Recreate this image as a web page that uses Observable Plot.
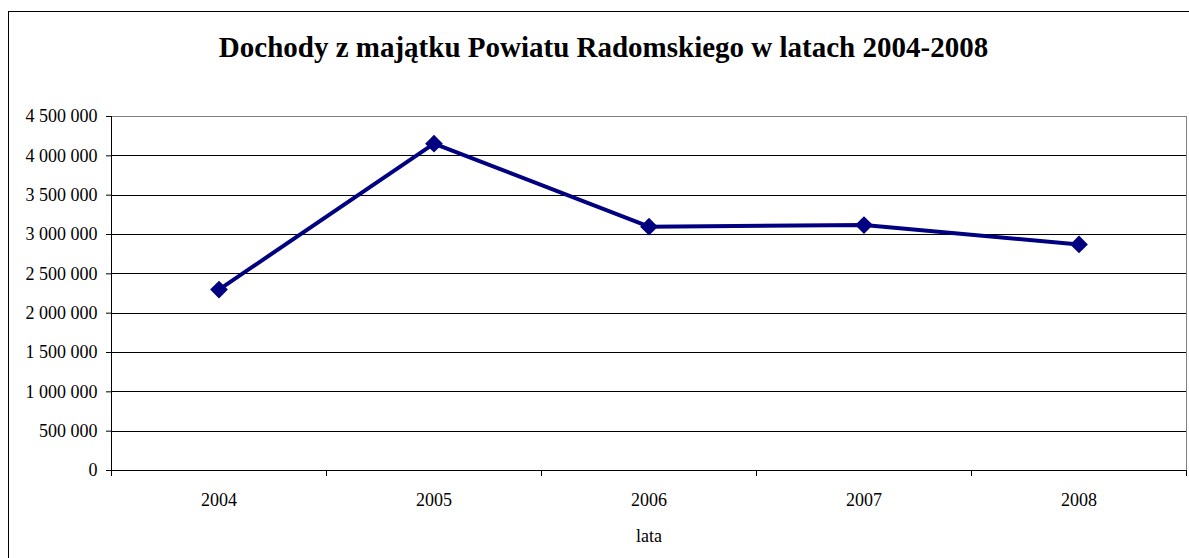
<!DOCTYPE html>
<html>
<head>
<meta charset="utf-8">
<script src="https://cdn.jsdelivr.net/npm/d3@7"></script>
<script src="https://cdn.jsdelivr.net/npm/@observablehq/plot@0.6"></script>
<style>
  html, body { margin: 0; padding: 0; background: #fff; overflow: hidden; }
  #page { position: relative; width: 1189px; height: 558px; overflow: hidden; background: #fff; }
  #border { position: absolute; left: 8px; top: 11px; width: 1300px; height: 700px; border: 1px solid #000; box-sizing: border-box; }
  #title { position: absolute; left: 0; top: 30px; width: 1207px; text-align: center;
           font-family: "Liberation Serif", "Times New Roman", serif; font-weight: bold; font-size: 29px; line-height: 34px; color: #000; }
  #chart { position: absolute; left: 0; top: 80px; }
</style>
</head>
<body>
<div id="page">
  <div id="border"></div>
  <div id="title">Dochody z majątku Powiatu Radomskiego w latach 2004-2008</div>
  <div id="chart"></div>
</div>
<script>
const years = [2004, 2005, 2006, 2007, 2008];
const values = [2300000, 4155000, 3100000, 3120000, 2873000];
const yTicks = [0, 500000, 1000000, 1500000, 2000000, 2500000, 3000000, 3500000, 4000000, 4500000];
const xLabel = "lata";

const data = years.map((yr, i) => ({year: yr, value: values[i]}));
const xDomain = [years[0] - 0.5, years[years.length - 1] + 0.5];
const yDomain = [yTicks[0], yTicks[yTicks.length - 1]];
const xEdges = years.map(d => d - 0.5).concat([years[years.length - 1] + 0.5]);
const fmt = d3.formatLocale({decimal: ",", thousands: " ", grouping: [3], currency: ["", ""]}).format(",");

const chart = Plot.plot({
  width: 1189,
  height: 478,
  marginLeft: 111,
  marginRight: 3,
  marginTop: 36,
  marginBottom: 88,
  style: {fontFamily: "'Liberation Serif', 'Times New Roman', serif", fontSize: "18px", color: "#000", background: "transparent", overflow: "visible"},
  x: {domain: xDomain},
  y: {domain: yDomain},
  marks: [
    Plot.ruleY(yTicks.slice(1, -1), {stroke: "#000", strokeWidth: 1, shapeRendering: "crispEdges"}),
    Plot.ruleY([yDomain[1]], {stroke: "#808080", strokeWidth: 1, shapeRendering: "crispEdges"}),
    Plot.ruleX([xDomain[1]], {stroke: "#808080", strokeWidth: 1, shapeRendering: "crispEdges", dx: -0.5}),
    Plot.ruleX([xDomain[0]], {stroke: "#000", strokeWidth: 1, shapeRendering: "crispEdges"}),
    Plot.ruleY([yDomain[0]], {stroke: "#000", strokeWidth: 1, shapeRendering: "crispEdges"}),
    Plot.axisY({ticks: yTicks, tickSize: 5, tickPadding: 9, tickFormat: fmt, label: null, stroke: "#000", fill: "#000", fontSize: 18}),
    Plot.axisX({ticks: xEdges, tickSize: 6, tickFormat: () => "", label: null, stroke: "#000"}),
    Plot.axisX({ticks: years, tickSize: 0, tickPadding: 23, tickFormat: d => String(d), label: null, fill: "#000", fontSize: 18}),
    Plot.text([xLabel], {frameAnchor: "bottom", lineAnchor: "bottom", dy: 71, fontSize: 18, fill: "#000"}),
    Plot.line(data, {x: "year", y: "value", stroke: "#000080", strokeWidth: 4}),
    Plot.dot(data, {x: "year", y: "value", symbol: "diamond2", r: 8, fill: "#000080", stroke: "none"})
  ]
});
document.getElementById("chart").appendChild(chart);
</script>
</body>
</html>
